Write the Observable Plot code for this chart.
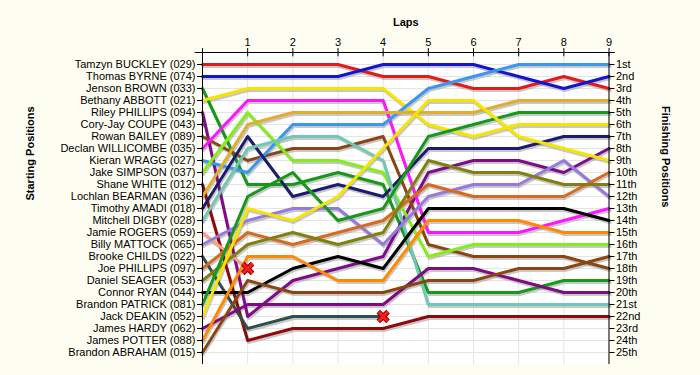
<!DOCTYPE html>
<html><head><meta charset="utf-8">
<script src="https://cdn.jsdelivr.net/npm/d3@7"></script>
<script src="https://cdn.jsdelivr.net/npm/@observablehq/plot@0.6"></script>
<style>
html,body{margin:0;padding:0;background:#fdfdf2;}
#chart svg{display:block;}
</style></head><body><div id="chart"></div>
<script>
const laps = [0,1,2,3,4,5,6,7,8,9];
const drivers = [
  "Tamzyn BUCKLEY (029)","Thomas BYRNE (074)","Jenson BROWN (033)","Bethany ABBOTT (021)",
  "Riley PHILLIPS (094)","Cory-Jay COUPE (043)","Rowan BAILEY (089)","Declan WILLICOMBE (035)",
  "Kieran WRAGG (027)","Jake SIMPSON (037)","Shane WHITE (012)","Lochlan BEARMAN (036)",
  "Timothy AMADI (018)","Mitchell DIGBY (028)","Jamie ROGERS (059)","Billy MATTOCK (065)",
  "Brooke CHILDS (022)","Joe PHILLIPS (097)","Daniel SEAGER (053)","Connor RYAN (044)",
  "Brandon PATRICK (081)","Jack DEAKIN (052)","James HARDY (062)","James POTTER (088)",
  "Brandon ABRAHAM (015)"
];
const colors = [
  "#e11b1b","#1414cc","#16981a","#f7e400",
  "#7d0c86","#2e2e6e","#8b4513","#ff14ff",
  "#3a97f0","#86ec1c","#8e0a0a","#e0ad2e",
  "#1c1c6c","#6fc8b4","#f4a283","#9579dc",
  "#2f4f4f","#d66a22","#808010","#000000",
  "#16981a","#f7e400","#800a80","#ff8a00",
  "#8b4513"
];
// position of each driver at laps 0..9 (null = not running)
const positions = [
  [1,1,1,1,2,2,3,3,2,3],
  [2,2,2,2,1,1,1,2,3,2],
  [3,11,11,10,11,20,20,20,19,19],
  [4,3,3,3,3,6,7,6,6,6],
  [5,22,19,18,17,10,9,9,10,8],
  [6,null,null,null,null,null,null,null,null,null],
  [7,9,8,8,7,16,17,17,17,18],
  [8,4,4,4,4,15,15,15,14,13],
  [9,10,6,6,6,3,2,1,1,1],
  [10,5,9,9,10,17,16,16,16,16],
  [11,24,23,23,23,22,22,22,22,22],
  [12,6,5,5,5,5,5,4,4,4],
  [13,7,12,11,12,8,8,8,7,7],
  [14,8,7,7,9,21,21,21,21,21],
  [15,18,null,null,null,null,null,null,null,null],
  [16,14,13,13,16,12,11,11,9,12],
  [17,23,22,22,22,null,null,null,null,null],
  [18,15,16,15,14,11,12,12,12,10],
  [19,16,15,16,15,9,10,10,11,11],
  [20,20,18,17,18,13,13,13,13,14],
  [21,12,10,14,13,7,6,5,5,5],
  [22,13,14,12,8,4,4,7,8,9],
  [23,21,21,21,21,18,18,19,20,20],
  [24,17,17,19,19,14,14,14,15,15],
  [25,19,20,20,20,19,19,18,18,17]
];
// lap at which a driver retired (marked with a cross)
const retiredLap = [null,null,null,null,null,null,null,null,null,null,null,null,null,null,1,null,4,null,null,null,null,null,null,null,null];
const finishLabels = ["1st","2nd","3rd","4th","5th","6th","7th","8th","9th","10th","11th","12th","13th","14th","15th","16th","17th","18th","19th","20th","21st","22nd","23rd","24th","25th"];
const posTicks = d3.range(1, 26);

const rows = [];
drivers.forEach((d, i) => positions[i].forEach((p, l) => {
  if (p != null) rows.push({driver: d, lap: l, pos: p, color: colors[i]});
}));
const crosses = drivers
  .map((d, i) => retiredLap[i] == null ? null : {driver: d, lap: retiredLap[i], pos: positions[i][retiredLap[i]]})
  .filter(Boolean);

const chart = Plot.plot({
  width: 700, height: 375,
  marginLeft: 202, marginRight: 91.5, marginTop: 52, marginBottom: 11,
  x: {domain: [0, 9]},
  y: {domain: [0, 26], reverse: true},
  style: {background: "transparent", fontFamily: "'Liberation Sans', Arial, sans-serif", fontSize: "11px", color: "#000", overflow: "visible"},
  marks: [
    Plot.frame({fill: "#ffffff", stroke: null}),
    Plot.gridX({ticks: laps, stroke: "#e4e4e4", strokeOpacity: 1}),
    Plot.gridY({ticks: posTicks, stroke: "#e4e4e4", strokeOpacity: 1}),
    Plot.line(rows, {x: "lap", y: "pos", z: "driver", stroke: "#9a9a9a", strokeOpacity: 0.55, strokeWidth: 3, dx: 1, dy: 2}),
    Plot.line(rows, {x: "lap", y: "pos", z: "driver", stroke: "color", strokeWidth: 3}),
    Plot.dot(crosses, {x: "lap", y: "pos", symbol: "times", r: 4.5, stroke: "#7a0000", strokeWidth: 5}),
    Plot.dot(crosses, {x: "lap", y: "pos", symbol: "times", r: 4.5, stroke: "#ff1a1a", strokeWidth: 3}),
    Plot.ruleX([0, 9], {y1: 0, y2: 26, stroke: "#000"}),
    Plot.ruleY([0], {x1: -0.16, x2: 9.14, stroke: "#000"}),
    Plot.ruleX(laps, {y1: 0, y2: 0.36, stroke: "#000"}),
    Plot.axisY({ticks: posTicks, anchor: "left", tickSize: 5, tickPadding: 2, tickFormat: d => drivers[d - 1], label: null, fontSize: 11}),
    Plot.axisY({ticks: posTicks, anchor: "right", tickSize: 5, tickPadding: 2, tickFormat: d => finishLabels[d - 1], label: null, fontSize: 11}),
    Plot.axisX({ticks: laps, anchor: "top", tickSize: 5, tickPadding: 2, tickFormat: d => d === 0 ? "" : String(d), label: null, fontSize: 11}),
    Plot.text(["Laps"], {text: d => d, frameAnchor: "top", dy: -34, fontWeight: "bold", fontSize: 11}),
    Plot.text(["Starting Positions"], {text: d => d, frameAnchor: "left", dx: -172, dy: -8, rotate: -90, fontWeight: "bold", fontSize: 11}),
    Plot.text(["Finishing Positions"], {text: d => d, frameAnchor: "right", dx: 57, dy: -1, rotate: 90, fontWeight: "bold", fontSize: 11})
  ]
});
document.getElementById("chart").appendChild(chart);
</script>
</body></html>
